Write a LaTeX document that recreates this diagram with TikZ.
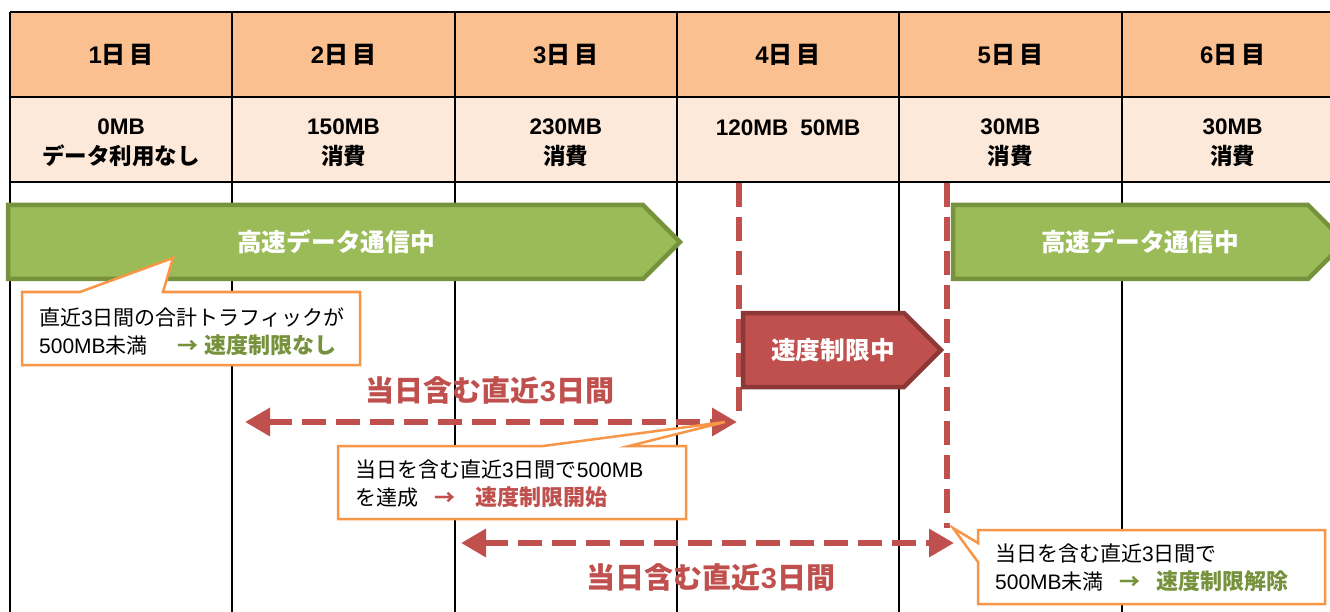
\documentclass[tikz,border=0pt]{standalone}
\usepackage{fontspec}
\setmainfont{Noto Sans CJK JP}
\newfontfamily\lat{Liberation Sans}
\usetikzlibrary{arrows.meta}
\definecolor{hdr}{HTML}{FAC090}
\definecolor{rowc}{HTML}{FDE9D9}
\definecolor{gfill}{HTML}{9BBB59}
\definecolor{gline}{HTML}{76923C}
\definecolor{rfill}{HTML}{C0504D}
\definecolor{rline}{HTML}{8C3836}
\definecolor{orng}{HTML}{F79646}
\newcommand{\lt}[1]{{\lat #1}}
\newcommand{\bigb}[1]{{\fontsize{22}{27}\selectfont\bfseries #1}}
\tikzset{
  grid/.style={draw=black, line width=2pt},
  hdrtext/.style={font=\fontsize{24}{28}\selectfont\bfseries, inner sep=0pt},
  rowtext/.style={font=\fontsize{22.5}{30}\selectfont\bfseries, align=center, inner sep=0pt},
  greenband/.style={fill=gfill, draw=gline, line width=4.5pt, line join=miter},
  redband/.style={fill=rfill, draw=rline, line width=4.5pt, line join=miter},
  bandtext/.style={font=\fontsize{24.7}{28}\selectfont\bfseries, text=white, inner sep=0pt},
  rdash/.style={draw=rfill, line width=6.5pt, dash pattern=on 24pt off 10pt},
  rarrow/.style={rdash, {Triangle[length=25pt,width=27pt]}-{Triangle[length=25pt,width=27pt]}},
  redlabel/.style={font=\fontsize{29}{32}\selectfont\bfseries, text=rfill, inner sep=0pt},
  callout/.style={fill=white, draw=orng, line width=2.5pt, line join=miter},
  ctext/.style={font=\fontsize{21}{28}\selectfont, align=left, inner sep=0pt, anchor=west},
}
\begin{document}
\begin{tikzpicture}[x=1pt,y=-1pt]
\useasboundingbox[fill=white] (0,0) rectangle (1330,612);
% table fills
\fill[hdr] (10,12) rectangle (1344,97);
\fill[rowc] (10,97) rectangle (1344,182);
% grid
\foreach \yy in {12,97,182} \draw[grid] (10,\yy) -- (1344,\yy);
\foreach \xx in {10,232.3,454.6,676.9,899.2,1121.5} \draw[grid] (\xx,12) -- (\xx,612);
% header
\node[hdrtext] (d1) at (121.2,55) {\lt{1}日\hspace{4pt}目};
\node[hdrtext] (d2) at (343.5,55) {\lt{2}日\hspace{4pt}目};
\node[hdrtext] (d3) at (565.8,55) {\lt{3}日\hspace{4pt}目};
\node[hdrtext] (d4) at (788.1,55) {\lt{4}日\hspace{4pt}目};
\node[hdrtext] (d5) at (1010.4,55) {\lt{5}日\hspace{4pt}目};
\node[hdrtext] (d6) at (1232.7,55) {\lt{6}日\hspace{4pt}目};
% usage row
\node[rowtext] (u1) at (121.2,143) {\lt{0MB}\\データ利用なし};
\node[rowtext] (u2) at (343.5,143) {\lt{150MB}\\消費};
\node[rowtext] (u3) at (565.8,143) {\lt{230MB}\\消費};
\node[rowtext] (u4) at (788.1,128) {\lt{120MB\hspace{12pt}50MB}};
\node[rowtext] (u5) at (1010.4,143) {\lt{30MB}\\消費};
\node[rowtext] (u6) at (1232.7,143) {\lt{30MB}\\消費};
% red dashed verticals
\coordinate (v1a) at (739,183); \coordinate (v1b) at (739,418);
\coordinate (v2a) at (947,183); \coordinate (v2b) at (947,528);
\draw[rdash] (v1a) -- (v1b);
\draw[rdash] (v2a) -- (v2b);
% green bands
\draw[greenband] (8,205) -- (643,205) -- (680,242) -- (643,279) -- (8,279) -- cycle;
\node[bandtext] (g1) at (336,242) {高速データ通信中};
\draw[greenband] (953,205) -- (1308,205) -- (1345,242) -- (1308,279) -- (953,279) -- cycle;
\node[bandtext] (g2) at (1140,242) {高速データ通信中};
% red band
\draw[redband] (743,313) -- (904,313) -- (941,350) -- (904,387) -- (743,387) -- cycle;
\node[bandtext] (r1) at (833,350) {速度制限中};
% horizontal double arrows
\coordinate (h1a) at (245,422); \coordinate (h1b) at (737,422);
\coordinate (h2a) at (461,543); \coordinate (h2b) at (954,543);
\draw[rarrow] (h1a) -- (h1b);
\draw[rarrow] (h2a) -- (h2b);
\node[redlabel] (l1) at (490,390) {当日含む直近\lt{3}日間};
\node[redlabel] (l2) at (711,577) {当日含む直近\lt{3}日間};
% callouts
\draw[callout] (22,292) -- (80,292) -- (173,258) -- (163,292) -- (360,292) -- (360,365) -- (22,365) -- cycle;
\node[ctext] (c1) at (39,332) {直近\lt{3}日間の合計トラフィックが\\\lt{500MB}未満\hspace{30pt}{\color{gline}\bfseries →\hspace{6pt}\bigb{速度制限なし}}};
\draw[callout] (338,446) -- (543,446) -- (725,422) -- (629,446) -- (686,446) -- (686,519) -- (338,519) -- cycle;
\node[ctext] (c2) at (355,484) {当日を含む直近\lt{3}日間で\lt{500MB}\\を達成\hspace{16pt}{\color{rfill}\bfseries →\hspace{20pt}\bigb{速度制限開始}}};
\draw[callout] (978,530) -- (1325,530) -- (1325,604) -- (978,604) -- (978,562) -- (953,528) -- (978,543) -- cycle;
\node[ctext] (c3) at (995,568) {当日を含む直近\lt{3}日間で\\\lt{500MB}未満\hspace{16pt}{\color{gline}\bfseries →\hspace{16pt}\bigb{速度制限解除}}};
\end{tikzpicture}
\end{document}
